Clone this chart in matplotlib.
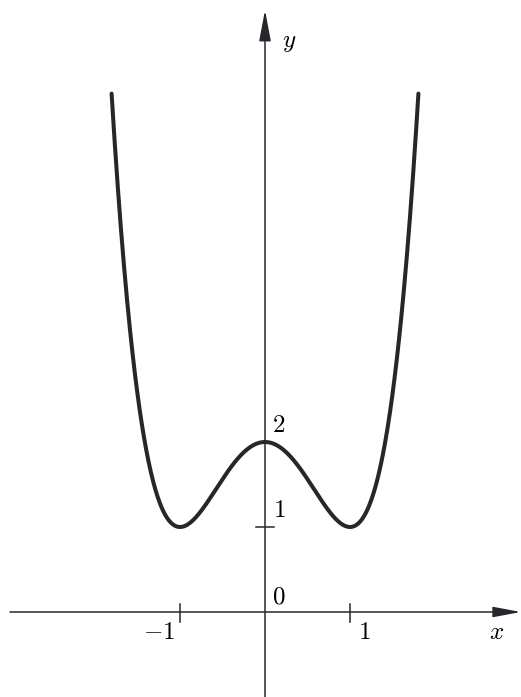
import matplotlib
matplotlib.use("Agg")
import matplotlib.pyplot as plt
import numpy as np

# curve y = x^4 - 2x^2 + 2, coefficients highest power first
coeffs = [1, 0, -2, 0, 2]
x_range = [-1.805, 1.805]
x_ticks = [-1, 1]
x_tick_labels = [r'$-1$', r'$1$']
y_ticks = [1]
y_tick_labels = [r'$1$']

plt.rcParams['mathtext.fontset'] = 'cm'
plt.rcParams['font.family'] = 'serif'

fig = plt.figure(figsize=(5.21, 6.97), dpi=100)
ax = fig.add_axes([0, 0, 1, 1])
ax.set_xlim(-3.118, 3.012)
ax.set_ylim(-1.0, 7.2)
ax.axis('off')

ink = '#26262c'

# axes with arrows
ax.annotate('', xy=(3.01, 0), xytext=(-3.0, 0),
            arrowprops=dict(arrowstyle='-|>,head_length=1.7,head_width=0.32',
                            mutation_scale=10, color=ink, lw=1.1,
                            shrinkA=0, shrinkB=0))
ax.annotate('', xy=(0, 7.08), xytext=(0, -1.0),
            arrowprops=dict(arrowstyle='-|>,head_length=1.9,head_width=0.36',
                            mutation_scale=10, color=ink, lw=1.1,
                            shrinkA=0, shrinkB=0))

# tick marks
for t in x_ticks:
    ax.plot([t, t], [-0.12, 0.1], color=ink, lw=1.1)
for t in y_ticks:
    ax.plot([-0.106, 0.106], [t, t], color=ink, lw=1.1)

# curve
xs = np.linspace(x_range[0], x_range[1], 400)
ax.plot(xs, np.polyval(coeffs, xs), color=ink, lw=2.9, solid_capstyle='round')

fs = 18
ax.text(0.08, 0.04, r'$0$', fontsize=fs, ha='left', va='bottom')
ax.text(-1.06, -0.11, x_tick_labels[0], fontsize=fs, ha='right', va='top')
ax.text(1.09, -0.11, x_tick_labels[1], fontsize=fs, ha='left', va='top')
ax.text(2.73, -0.24, r'$x$', fontsize=fs, ha='center', va='center')
ax.text(0.28, 6.7, r'$y$', fontsize=fs, ha='center', va='center')
ax.text(0.08, 2.06, r'$2$', fontsize=fs, ha='left', va='bottom')
ax.text(0.09, 1.06, y_tick_labels[0], fontsize=fs, ha='left', va='bottom')

fig.savefig('out.png', dpi=100, facecolor='white')
